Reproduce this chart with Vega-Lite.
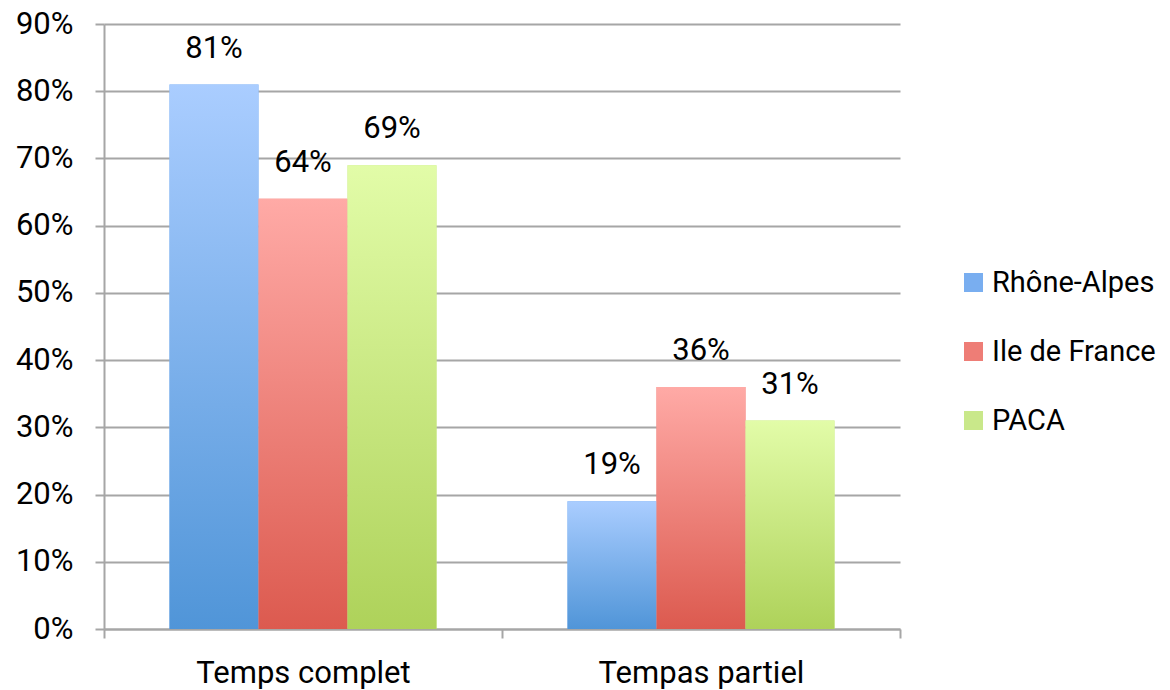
{
  "$schema": "https://vega.github.io/schema/vega-lite/v6.json",
  "autosize": {"type": "none"},
  "padding": {"left": 104, "top": 24, "right": 270, "bottom": 61},
  "width": 796,
  "height": 605,
  "background": "white",
  "config": {
    "view": {"stroke": null},
    "font": "Roboto",
    "axis": {"labelFont": "Roboto", "labelColor": "#000000"},
    "legend": {"labelFont": "Roboto"}
  },
  "data": {
    "values": [
      {"cat": "Temps complet", "region": "Rhône-Alpes", "value": 0.81},
      {"cat": "Temps complet", "region": "Ile de France", "value": 0.64},
      {"cat": "Temps complet", "region": "PACA", "value": 0.69},
      {"cat": "Tempas partiel", "region": "Rhône-Alpes", "value": 0.19},
      {"cat": "Tempas partiel", "region": "Ile de France", "value": 0.36},
      {"cat": "Tempas partiel", "region": "PACA", "value": 0.31}
    ]
  },
  "encoding": {
    "x": {
      "field": "cat", "type": "nominal", "sort": ["Temps complet", "Tempas partiel"],
      "scale": {"paddingInner": 0, "paddingOuter": 0},
      "axis": {"title": null, "labelAngle": 0, "labelFontSize": 31, "labelPadding": 20, "labelLimit": 0,
        "tickBand": "extent", "tickSize": 9, "tickColor": "#a6a6a6", "tickWidth": 2,
        "domainColor": "#a6a6a6", "domainWidth": 2, "grid": false}
    },
    "xOffset": {
      "field": "region", "type": "nominal", "sort": ["Rhône-Alpes", "Ile de France", "PACA"],
      "scale": {"paddingInner": 0, "paddingOuter": 0.736}
    },
    "y": {
      "field": "value", "type": "quantitative",
      "scale": {"domain": [0, 0.9], "nice": false},
      "axis": {"title": null, "format": ".0%", "values": [0, 0.1, 0.2, 0.3, 0.4, 0.5, 0.6, 0.7, 0.8, 0.9],
        "labelFontSize": 31, "labelPadding": 22, "tickSize": 9, "tickColor": "#a6a6a6", "tickWidth": 2,
        "domainColor": "#a6a6a6", "domainWidth": 2, "gridColor": "#a6a6a6", "gridWidth": 2}
    }
  },
  "layer": [
    {
      "mark": {"type": "bar"},
      "encoding": {
        "color": {
          "field": "region", "type": "nominal", "sort": ["Rhône-Alpes", "Ile de France", "PACA"],
          "scale": {"domain": ["Rhône-Alpes", "Ile de France", "PACA"], "range": ["#79aef0", "#ee7d76", "#c9e88a"]},
          "legend": {"title": null, "orient": "none", "legendX": 855, "legendY": 244,
            "symbolType": "square", "symbolSize": 361, "symbolStrokeWidth": 0, "labelFontSize": 29,
            "rowPadding": 39, "labelOffset": 4, "labelLimit": 400, "symbolOpacity": 1}
        }
      }
    },
    {
      "transform": [{"filter": "datum.region === 'Rhône-Alpes'"}],
      "mark": {"type": "bar", "fill": {"gradient": "linear", "x1": 0, "y1": 0, "x2": 0, "y2": 1,
        "stops": [{"offset": 0, "color": "#aacdff"}, {"offset": 1, "color": "#5095d8"}]}}
    },
    {
      "transform": [{"filter": "datum.region === 'Ile de France'"}],
      "mark": {"type": "bar", "fill": {"gradient": "linear", "x1": 0, "y1": 0, "x2": 0, "y2": 1,
        "stops": [{"offset": 0, "color": "#ffaaa6"}, {"offset": 1, "color": "#dc5a4f"}]}}
    },
    {
      "transform": [{"filter": "datum.region === 'PACA'"}],
      "mark": {"type": "bar", "fill": {"gradient": "linear", "x1": 0, "y1": 0, "x2": 0, "y2": 1,
        "stops": [{"offset": 0, "color": "#e2fca8"}, {"offset": 1, "color": "#aed25a"}]}}
    },
    {
      "mark": {"type": "text", "baseline": "bottom", "dy": -20, "fontSize": 31, "font": "Roboto", "color": "#000000"},
      "encoding": {"text": {"field": "value", "type": "quantitative", "format": ".0%"}}
    }
  ]
}
